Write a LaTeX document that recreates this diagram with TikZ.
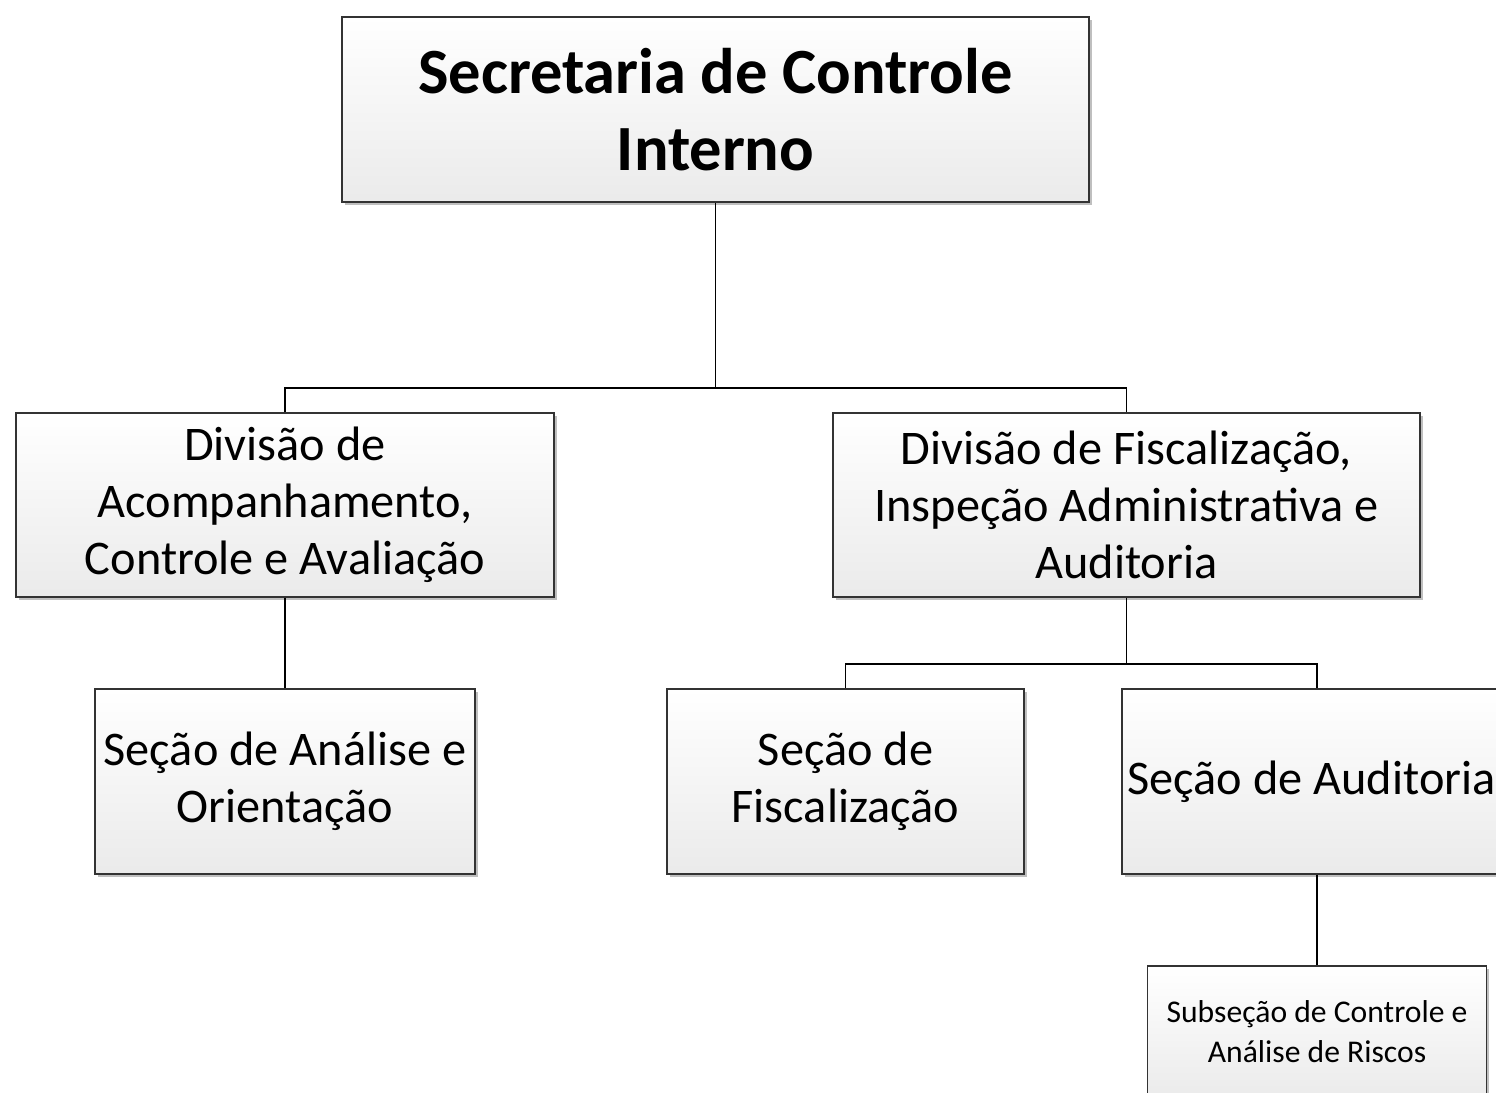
\documentclass[tikz,border=0pt]{standalone}
\usepackage{fontspec}
\setmainfont{Carlito}
\usepackage{tikz}
\usetikzlibrary{shapes,shadows,positioning,backgrounds}

\begin{document}
\begin{tikzpicture}[x=0.02cm, y=-0.02cm]
  % styles
  \tikzstyle{unit}=[rectangle, draw=black!80, line width=0.7pt, top color=white, bottom color=black!8, inner sep=0pt, align=center, minimum height=3.7cm, drop shadow={shadow xshift=0.06cm, shadow yshift=-0.06cm, fill=black!25, opacity=1}, font=\fontsize{27.5}{32.3}\selectfont]
  \tikzstyle{head}=[unit, font=\fontsize{36.7}{44}\selectfont\bfseries]
  \tikzstyle{small}=[unit, font=\fontsize{18}{22.7}\selectfont]
  \tikzstyle{line} = [draw, line width=0.9pt, black]

  \useasboundingbox (0,0) rectangle (1496,1092);
  \clip (0,0) rectangle (1496,1092);

  % first level
  \node [head, minimum width=14.94cm] (secretaria) at (715.5,109.5) {Secretaria de Controle\\Interno};

  % second level
  \node [unit, minimum width=10.76cm, minimum height=3.68cm] (div_acompanhamento) at (285,505) {
      Divisão de\\Acompanhamento,\\Controle e Avaliação
  };
  \node [unit, minimum width=11.74cm, minimum height=3.68cm] (div_fiscalizacao) at (1126.5,505) {
      Divisão de Fiscalização,\\Inspeção Administrativa e\\Auditoria
  };

  % third level
  \node [unit, minimum width=7.6cm] (secao_analise) at (285,781.5) {
      Seção de Análise e\\Orientação
  };
  \node [unit, minimum width=7.14cm] (secao_fiscalizacao) at (845.5,781.5) {
      Seção de\\Fiscalização
  };
  \node [unit, minimum width=7.8cm] (secao_auditoria) at (1317,781.5) {
      Seção de Auditoria
  };

  % fourth level
  \node [small, minimum width=6.78cm, minimum height=2.64cm] (subsecao_riscos) at (1317,1032) {
      Subseção de Controle e\\Análise de Riscos
  };

  % connectors
  \coordinate (bus_top) at (secretaria.south |- 0,388);
  \coordinate (bus_fisc) at (div_fiscalizacao.south |- 0,664);
  \draw [line] (secretaria.south) -- (bus_top);
  \draw [line] (div_acompanhamento.north) |- (bus_top) -| (div_fiscalizacao.north);
  \draw [line] (div_acompanhamento.south) -- (secao_analise.north);
  \draw [line] (div_fiscalizacao.south) -- (bus_fisc);
  \draw [line] (secao_fiscalizacao.north) |- (bus_fisc) -| (secao_auditoria.north);
  \draw [line] (secao_auditoria.south) -- (subsecao_riscos.north);
\end{tikzpicture}
\end{document}
